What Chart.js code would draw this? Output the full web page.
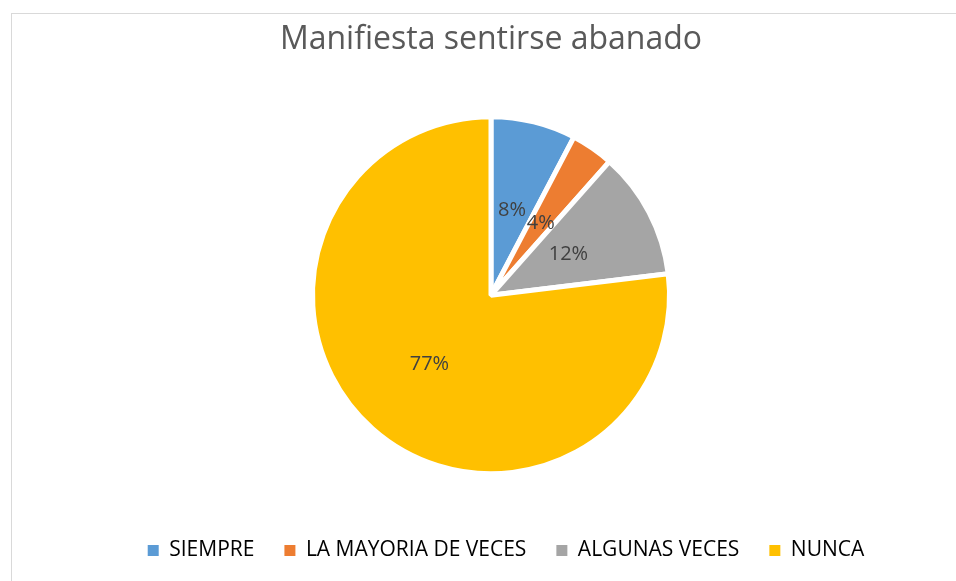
<!DOCTYPE html>
<html><head><meta charset="utf-8">
<script src="https://cdn.jsdelivr.net/npm/chart.js@4/dist/chart.umd.min.js"></script>
<style>
html,body{margin:0;padding:0;background:#fff;overflow:hidden}
#frame{position:absolute;left:11px;top:13px;width:980px;height:620px;border:1px solid #d9d9d9;box-sizing:border-box}
#wrap{position:absolute;left:0;top:0;width:956px;height:581px}
</style></head><body>
<div id="frame"></div>
<div id="wrap"><canvas id="c" width="956" height="581"></canvas></div>
<script>
const title = "Manifiesta sentirse abanado";
const categories = ["SIEMPRE", "LA MAYORIA DE VECES", "ALGUNAS VECES", "NUNCA"];
const counts = [2, 1, 3, 20];
const percentLabels = ["8%", "4%", "12%", "77%"];
const colors = ["#5B9BD5", "#ED7D31", "#A5A5A5", "#FFC000"];

const sliceLabels = {
  id: 'sliceLabels',
  afterDatasetsDraw(chart) {
    const ctx = chart.ctx;
    const meta = chart.getDatasetMeta(0);
    ctx.save();
    ctx.font = '20px "Open Sans", sans-serif';
    ctx.fillStyle = '#404040';
    ctx.textAlign = 'center';
    ctx.textBaseline = 'middle';
    meta.data.forEach((arc, i) => {
      const p = arc.getProps(['x','y','startAngle','endAngle','outerRadius'], true);
      const mid = (p.startAngle + p.endAngle) / 2;
      const r = p.outerRadius * (i === 3 ? 0.52 : 0.49);
      ctx.fillText(percentLabels[i], p.x + Math.cos(mid) * r, p.y + Math.sin(mid) * r);
    });
    ctx.restore();
  }
};

const legendShift = {
  id: 'legendShift',
  afterLayout(chart) {
    if (chart.legend) { chart.legend.left += 15; chart.legend.right += 15; }
  }
};

new Chart(document.getElementById('c'), {
  type: 'pie',
  data: {
    labels: categories,
    datasets: [{
      data: counts,
      backgroundColor: colors,
      borderColor: '#ffffff',
      borderWidth: 5
    }]
  },
  options: {
    responsive: false,
    animation: false,
    radius: 178.5,
    layout: { padding: { top: 0, bottom: 10, left: 26, right: 0 } },
    plugins: {
      tooltip: { enabled: false },
      title: {
        display: true,
        text: title,
        color: '#595959',
        font: { family: '"Open Sans", sans-serif', size: 32, weight: 'normal' },
        padding: { top: 21, bottom: 21 }
      },
      legend: {
        position: 'bottom',
        labels: {
          color: '#595959',
          font: { family: '"Open Sans", sans-serif', size: 21 },
          boxWidth: 11,
          boxHeight: 11,
          padding: 30,
          generateLabels(chart) {
            return categories.map((c, i) => ({
              text: c, fillStyle: colors[i], strokeStyle: colors[i], lineWidth: 0, index: i, hidden: false
            }));
          }
        }
      }
    }
  },
  plugins: [sliceLabels, legendShift]
});
</script>
</body></html>
